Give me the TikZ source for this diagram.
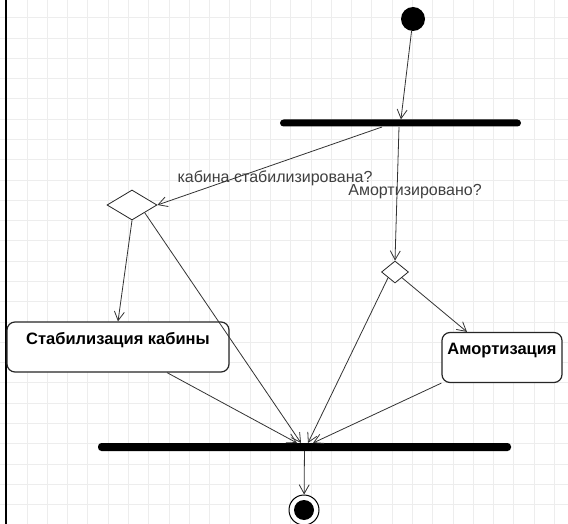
\documentclass[tikz,border=0pt]{standalone}
\usepackage{fontspec}
\setmainfont{Liberation Sans}
\usetikzlibrary{shapes.geometric,arrows.meta,calc}

\begin{document}
\begin{tikzpicture}[x=1pt,y=-1pt,
  flow/.style={draw=black!80,line width=0.8pt,-{Straight Barb[length=9pt,width=10pt]}},
  bar/.style={fill=black,rounded corners=3.5pt,inner sep=0pt,minimum height=7pt},
  choice/.style={diamond,draw=black!85,line width=0.8pt,fill=white,inner sep=0pt},
  action/.style={draw=black!85,line width=1.2pt,rounded corners=8pt,fill=white,
    inner sep=0pt,text height=22pt,text depth=28pt,
    font=\fontsize{16.5}{18}\selectfont\bfseries},
  guard/.style={text=black!75,font=\fontsize{16}{18}\selectfont,inner sep=0pt}]
  \useasboundingbox (0,0) rectangle (568,524);
  \fill[white] (0,0) rectangle (568,524);
  \draw[black!7,line width=0.7pt,shift={(6.7,17.7)},step=20.28pt]
    (-6.7,-17.7) grid (561.3,506.3);
  \draw[line width=2pt] (6,0) -- (6,524);

  \node[circle,fill=black,minimum size=24pt,inner sep=0pt] (start) at (413,19) {};
  \node[bar,minimum width=241pt] (fork) at (400.5,123) {};
  \node[choice,minimum width=50pt,minimum height=30pt] (dec1) at (132,205) {};
  \node[choice,minimum width=27pt,minimum height=22pt] (dec2) at (395,272) {};
  \node[action,minimum width=222pt] (act1) at (118,347) {Стабилизация кабины};
  \node[action,minimum width=120pt] (act2) at (502,357.5) {Амортизация};
  \node[bar,minimum width=413pt,minimum height=8pt] (join) at (304.5,447) {};
  \node[circle,draw,line width=1pt,minimum size=30pt,fill=white,inner sep=0pt]
    (end) at (304,510) {};
  \fill (end.center) circle (10pt);

  \node[guard] (q1) at (275,178) {кабина стабилизирована?};
  \node[guard] (q2) at (415,192) {Амортизировано?};

  \coordinate (f1) at (382,127);
  \coordinate (f2) at (399,127);
  \coordinate (j1) at (297,443);
  \coordinate (j2) at (301,443);
  \coordinate (j3) at (308,443);
  \coordinate (j4) at (313,443);

  \draw[flow] (start) -- (fork);
  \draw[flow] (f1) -- (dec1.east);
  \draw[flow] (f2) -- (dec2.north);
  \draw[flow] (dec1.south) -- (act1.north);
  \draw[flow] (dec1.south east) -- (j2);
  \draw[flow] (dec2.south west) -- (j3);
  \draw[flow] (dec2.south east) -- ([xshift=-35pt]act2.north);
  \draw[flow] ([xshift=49pt]act1.south) -- (j1);
  \draw[flow] (act2.south west) -- (j4);
  \draw[flow] (join) -- (end);
\end{tikzpicture}
\end{document}
